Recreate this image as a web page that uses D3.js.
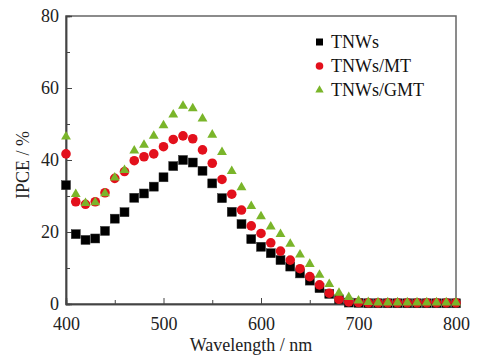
<!DOCTYPE html>
<html><head><meta charset="utf-8">
<script src="https://cdn.jsdelivr.net/npm/d3@7/dist/d3.min.js"></script>
<style>body{margin:0;background:#fff}svg{display:block}</style>
</head><body>
<svg id="c" width="477" height="363"></svg>
<script>
const wavelengths = [400,410,420,430,440,450,460,470,480,490,500,510,520,530,540,550,560,570,580,590,600,610,620,630,640,650,660,670,680,690,700,710,720,730,740,750,760,770,780,790,800];
const tnws   = [33.0,19.4,17.8,18.2,20.3,23.7,25.5,29.5,30.7,32.6,35.2,38.3,40.0,39.3,37.0,33.5,29.4,25.6,22.2,18.0,15.9,14.1,12.2,10.4,8.5,6.5,4.4,2.8,1.3,0.4,0.3,0.2,0.2,0.2,0.2,0.2,0.2,0.2,0.2,0.2,0.2];
const tnwsMT = [41.7,28.4,27.7,28.4,30.9,34.9,36.8,39.8,40.9,41.7,43.7,45.7,46.7,45.9,42.8,39.1,34.6,30.5,26.1,21.7,19.6,17.0,14.7,12.2,9.8,7.6,5.3,3.0,1.3,0.6,0.4,0.3,0.3,0.3,0.3,0.3,0.3,0.3,0.3,0.3,0.3];
const tnwsGMT= [46.5,30.5,28.0,28.2,30.7,35.1,37.2,42.6,44.2,46.7,49.6,52.6,55.0,54.3,51.5,47.0,42.2,36.9,32.4,27.2,24.3,21.5,19.4,16.7,13.7,11.1,8.1,5.5,3.1,1.9,0.9,0.5,0.4,0.4,0.4,0.4,0.4,0.4,0.4,0.4,0.4];
const seriesNames = ["TNWs","TNWs/MT","TNWs/GMT"];
const xTicks = [400,500,600,700,800];
const yTicks = [0,20,40,60,80];

const svg = d3.select("#c");
const L=66,R=456,T=16,B=304;
const x = d3.scaleLinear().domain([400,800]).range([L,R]);
const y = d3.scaleLinear().domain([0,80]).range([B,T]);
const font = "'Liberation Serif','Times New Roman',serif";
const axisCol = "#444";

// frame
svg.append("rect").attr("x",L).attr("y",T).attr("width",R-L).attr("height",B-T)
  .attr("fill","none").attr("stroke","#666").attr("stroke-width",1.5);

// axes (inward ticks)
const xAxis = d3.axisBottom(x).tickValues(xTicks).tickSize(-6).tickPadding(13).tickFormat(d3.format("d"));
const gx = svg.append("g").attr("transform",`translate(0,${B})`).call(xAxis);
const gxm = svg.append("g").attr("transform",`translate(0,${B})`).call(d3.axisBottom(x).tickValues([450,550,650,750]).tickSize(-4).tickFormat(""));
const yAxis = d3.axisLeft(y).tickValues(yTicks).tickSize(-6).tickPadding(7);
const gy = svg.append("g").attr("transform",`translate(${L},0)`).call(yAxis);
const gym = svg.append("g").attr("transform",`translate(${L},0)`).call(d3.axisLeft(y).tickValues([10,30,50,70]).tickSize(-4).tickFormat(""));
[gx,gxm,gy,gym].forEach(g=>{
  g.select(".domain").attr("stroke",axisCol).attr("stroke-width",1.5);
  g.selectAll(".tick line").attr("stroke",axisCol).attr("stroke-width",1);
  g.selectAll("text").attr("font-family",font).attr("font-size",18).attr("fill","#222");
});

// markers
const sz = 9;
svg.append("g").selectAll("rect").data(wavelengths).join("rect")
  .attr("x",(d)=>x(d)-sz/2).attr("y",(d,i)=>y(tnws[i])-sz/2)
  .attr("width",sz).attr("height",sz).attr("fill","#000").attr("stroke","#333").attr("stroke-width",0.5);
svg.append("g").selectAll("circle").data(wavelengths).join("circle")
  .attr("cx",d=>x(d)).attr("cy",(d,i)=>y(tnwsMT[i])).attr("r",4.8).attr("fill","#e3101c");
const tri = d3.symbol().type(d3.symbolTriangle).size(42);
svg.append("g").selectAll("path").data(wavelengths).join("path")
  .attr("transform",(d,i)=>`translate(${x(d)},${y(tnwsGMT[i])})`)
  .attr("d",tri).attr("fill","#7ab52a");

// legend
const lg = svg.append("g");
const ly = [42,66,90];
lg.append("rect").attr("x",316).attr("y",ly[0]-3.5).attr("width",7).attr("height",7).attr("fill","#000");
lg.append("circle").attr("cx",319.5).attr("cy",ly[1]).attr("r",3.8).attr("fill","#e3101c");
lg.append("path").attr("transform",`translate(319.5,${ly[2]})`).attr("d",d3.symbol().type(d3.symbolTriangle).size(30)).attr("fill","#7ab52a");
seriesNames.forEach((n,i)=>{
  lg.append("text").attr("x",331).attr("y",ly[i]+6).text(n)
    .attr("font-family",font).attr("font-size",18).attr("fill","#111");
});

// axis labels
svg.append("text").attr("x",251).attr("y",351).attr("text-anchor","middle")
  .attr("font-family",font).attr("font-size",18).attr("fill","#222").text("Wavelength / nm");
svg.append("text").attr("transform","translate(29,165) rotate(-90)").attr("text-anchor","middle")
  .attr("font-family",font).attr("font-size",18).attr("fill","#222").text("IPCE / %");
</script>
</body></html>
